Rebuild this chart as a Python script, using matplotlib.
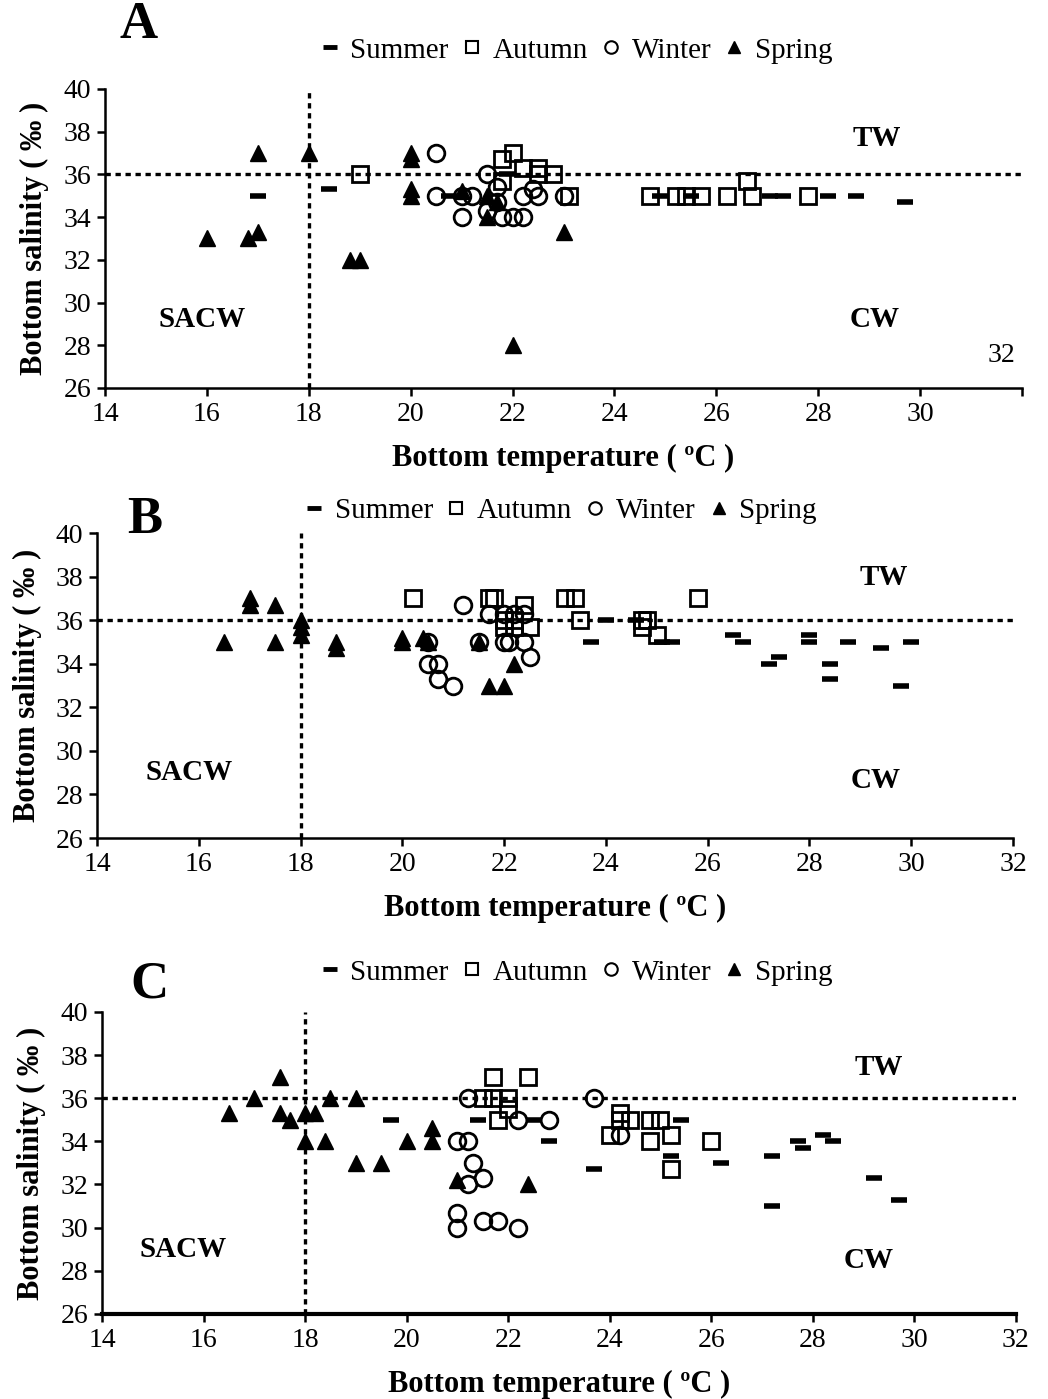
import numpy as np
import matplotlib
matplotlib.use("Agg")
import matplotlib.pyplot as plt
from matplotlib.lines import Line2D

plt.rcParams['font.family'] = ['Liberation Serif', 'DejaVu Serif']

# ---- Panel A ----
a_summer_t = [17.0, 18.4, 20.75, 21.9, 24.9, 25.5, 27.05, 27.3, 28.2, 28.75, 29.7]
a_summer_s = [35.0, 35.3, 35.0, 36.0, 35.0, 35.0, 35.0, 35.0, 35.0, 35.0, 34.7]
a_autumn_t = [19.0, 21.8, 22.0, 22.2, 21.8, 22.5, 22.5, 22.8, 23.1, 24.7, 25.2, 25.4, 25.7,
              26.2, 26.6, 26.7, 27.8]
a_autumn_s = [36.0, 36.7, 37.0, 36.3, 35.7, 36.3, 36.0, 36.0, 35.0, 35.0, 35.0, 35.0, 35.0,
              35.0, 35.7, 35.0, 35.0]
a_winter_t = [20.5, 21.5, 21.7, 20.5, 21.0, 21.2, 21.5, 21.7, 22.2, 22.4, 22.5, 23.0,
              21.0, 21.8, 22.0, 22.2]
a_winter_s = [37.0, 36.0, 35.4, 35.0, 35.0, 35.0, 34.3, 34.7, 35.0, 35.3, 35.0, 35.0,
              34.0, 34.0, 34.0, 34.0]
a_spring_t = [17.0, 18.0, 20.0, 20.0, 20.0, 20.0, 16.0, 16.8, 17.0, 18.8, 19.0, 21.0,
              21.5, 21.7, 21.5, 23.0, 22.0]
a_spring_s = [37.0, 37.0, 37.0, 36.7, 35.3, 35.0, 33.0, 33.0, 33.3, 32.0, 32.0, 35.2,
              35.0, 34.7, 34.0, 33.3, 28.0]

# ---- Panel B ----
b_summer_t = [24.0, 24.6, 23.7, 25.1, 25.3, 26.5, 26.7, 27.2, 27.4, 28.0, 28.0, 28.4,
              28.4, 28.75, 29.4, 29.8, 30.0]
b_summer_s = [36.0, 36.0, 35.0, 35.0, 35.0, 35.3, 35.0, 34.0, 34.3, 35.3, 35.0, 34.0,
              33.3, 35.0, 34.7, 33.0, 35.0]
b_autumn_t = [20.2, 21.7, 21.8, 22.4, 22.0, 22.0, 22.2, 22.5, 22.2, 23.2, 23.4, 23.5,
              25.8, 24.7, 24.8, 24.7, 25.0]
b_autumn_s = [37.0, 37.0, 37.0, 36.7, 36.0, 35.7, 35.7, 35.7, 36.0, 37.0, 37.0, 36.0,
              37.0, 36.0, 36.0, 35.7, 35.3]
b_winter_t = [21.2, 21.7, 22.0, 22.2, 22.4, 20.5, 21.5, 22.0, 22.1, 22.4, 22.5, 20.5,
              20.7, 20.7, 21.0]
b_winter_s = [36.7, 36.3, 36.3, 36.3, 36.3, 35.0, 35.0, 35.0, 35.0, 35.0, 34.3, 34.0,
              34.0, 33.3, 33.0]
b_spring_t = [17.0, 17.0, 17.5, 18.0, 18.0, 18.0, 16.5, 17.5, 18.7, 18.7, 20.0, 20.0,
              20.4, 20.5, 21.5, 22.2, 21.7, 22.0]
b_spring_s = [37.0, 36.7, 36.7, 36.0, 35.7, 35.3, 35.0, 35.0, 35.0, 34.7, 35.2, 35.0,
              35.2, 35.0, 35.0, 34.0, 33.0, 33.0]

# ---- Panel C ----
c_summer_t = [19.7, 21.4, 22.5, 22.8, 23.7, 25.4, 25.2, 26.2, 27.2, 27.2, 27.7, 27.8,
              28.2, 28.4, 29.2, 29.7]
c_summer_s = [35.0, 35.0, 35.0, 34.0, 32.7, 35.0, 33.3, 33.0, 33.3, 31.0, 34.0, 33.7,
              34.3, 34.0, 32.3, 31.3]
c_autumn_t = [21.7, 22.4, 21.5, 21.7, 22.0, 22.0, 21.8, 24.2, 24.2, 24.4, 24.8, 25.0,
              24.0, 24.8, 25.2, 25.2, 26.0]
c_autumn_s = [37.0, 37.0, 36.0, 36.0, 36.0, 35.5, 35.0, 35.3, 35.0, 35.0, 35.0, 35.0,
              34.3, 34.0, 34.3, 32.7, 34.0]
c_winter_t = [21.2, 21.0, 21.2, 21.3, 21.5, 21.2, 21.0, 21.0, 21.5, 21.8, 22.2, 22.2,
              22.8, 23.7, 24.2]
c_winter_s = [36.0, 34.0, 34.0, 33.0, 32.3, 32.0, 30.7, 30.0, 30.3, 30.3, 30.0, 35.0,
              35.0, 36.0, 34.3]
c_spring_t = [17.5, 17.0, 16.5, 17.5, 17.7, 18.0, 18.2, 18.5, 19.0, 18.0, 18.4, 19.0,
              19.5, 20.0, 20.5, 20.5, 21.0, 22.4]
c_spring_s = [37.0, 36.0, 35.3, 35.3, 35.0, 35.3, 35.3, 36.0, 36.0, 34.0, 34.0, 33.0,
              33.0, 34.0, 34.6, 34.0, 32.2, 32.0]

season_names = ["Summer", "Autumn", "Winter", "Spring"]
x_ticks = [14, 16, 18, 20, 22, 24, 26, 28, 30, 32]
y_ticks = [26, 28, 30, 32, 34, 36, 38, 40]

fig = plt.figure(figsize=(10.48, 13.99), dpi=100)


def draw_panel(rect, letter, letter_pos, legend_pos, data, labels_pos,
               xlabel, ylabel, show_last_xtick=True, bottom_lw=1.8):
    ax = fig.add_axes(rect)
    (st, ss), (at, as_), (wt, ws), (pt, ps) = data

    ax.plot(st, ss, linestyle="none", marker="_", markersize=12,
            markeredgewidth=4, color="black")
    ax.plot(at, as_, linestyle="none", marker="s", markersize=11,
            markerfacecolor="none", markeredgecolor="black", markeredgewidth=2)
    ax.plot(wt, ws, linestyle="none", marker="o", markersize=12,
            markerfacecolor="none", markeredgecolor="black", markeredgewidth=2)
    ax.plot(pt, ps, linestyle="none", marker="^", markersize=12,
            color="black")

    # water mass limits
    ax.plot([18, 18], [26, 40], color="black", lw=2.4, linestyle=(0, (1.6, 1.4)))
    ax.plot([14, 32], [36, 36], color="black", lw=2.4, linestyle=(0, (1.6, 1.4)))

    ax.set_xlim(14, 32)
    ax.set_ylim(26, 40)
    ax.set_xticks(x_ticks)
    if show_last_xtick:
        ax.set_xticklabels([str(v) for v in x_ticks])
    else:
        ax.set_xticklabels([str(v) for v in x_ticks[:-1]] + [""])
    ax.set_yticks(y_ticks)
    ax.tick_params(labelsize=20, length=6, width=1.8, direction="out", pad=4)

    for side in ["top", "right"]:
        ax.spines[side].set_visible(False)
    ax.spines["left"].set_linewidth(1.8)
    ax.spines["bottom"].set_linewidth(bottom_lw)

    ax.set_xlabel(xlabel, fontsize=22, fontweight="bold", labelpad=12)
    ax.set_ylabel(ylabel, fontsize=22, fontweight="bold", labelpad=10)

    for txt, (tx, ty) in labels_pos.items():
        ax.text(tx, ty, txt, fontsize=21, fontweight="bold",
                ha="center", va="center")

    fig.text(letter_pos[0], letter_pos[1], letter, fontsize=38,
             fontweight="bold", ha="center", va="center")

    handles = [
        Line2D([], [], linestyle="none", marker="_", markersize=10,
               markeredgewidth=3.5, color="black"),
        Line2D([], [], linestyle="none", marker="s", markersize=9,
               markerfacecolor="none", markeredgecolor="black", markeredgewidth=1.5),
        Line2D([], [], linestyle="none", marker="o", markersize=9,
               markerfacecolor="none", markeredgecolor="black", markeredgewidth=1.5),
        Line2D([], [], linestyle="none", marker="^", markersize=9, color="black"),
    ]
    ax.legend(handles, season_names, loc="center", ncol=4,
              bbox_to_anchor=legend_pos, bbox_transform=fig.transFigure,
              frameon=False, fontsize=21, handlelength=0.8, handletextpad=0.3,
              columnspacing=0.4, borderpad=0)
    return ax


ylab = "Bottom salinity ( \u2030 )"
xlab = "Bottom temperature ( \u00baC )"

ax_a = draw_panel([0.1002, 0.7227, 0.875, 0.2137], "A", (0.132, 0.982), (0.549, 0.964),
                  [(a_summer_t, a_summer_s), (a_autumn_t, a_autumn_s),
                   (a_winter_t, a_winter_s), (a_spring_t, a_spring_s)],
                  {"TW": (29.15, 37.7), "CW": (29.1, 29.2), "SACW": (15.9, 29.2)},
                  xlab, ylab, show_last_xtick=False)
ax_a.text(31.6, 27.5, "32", fontsize=20, ha="center", va="center")

draw_panel([0.0926, 0.401, 0.874, 0.218], "B", (0.138, 0.628), (0.534, 0.635),
           [(b_summer_t, b_summer_s), (b_autumn_t, b_autumn_s),
            (b_winter_t, b_winter_s), (b_spring_t, b_spring_s)],
           {"TW": (29.46, 37.95), "CW": (29.3, 28.65), "SACW": (15.8, 29.0)},
           xlab, ylab)

draw_panel([0.0973, 0.0608, 0.872, 0.2159], "C", (0.143, 0.296), (0.549, 0.305),
           [(c_summer_t, c_summer_s), (c_autumn_t, c_autumn_s),
            (c_winter_t, c_winter_s), (c_spring_t, c_spring_s)],
           {"TW": (29.3, 37.4), "CW": (29.1, 28.5), "SACW": (15.6, 29.0)},
           xlab, ylab, bottom_lw=3.0)

fig.savefig("out.png", dpi=100)
